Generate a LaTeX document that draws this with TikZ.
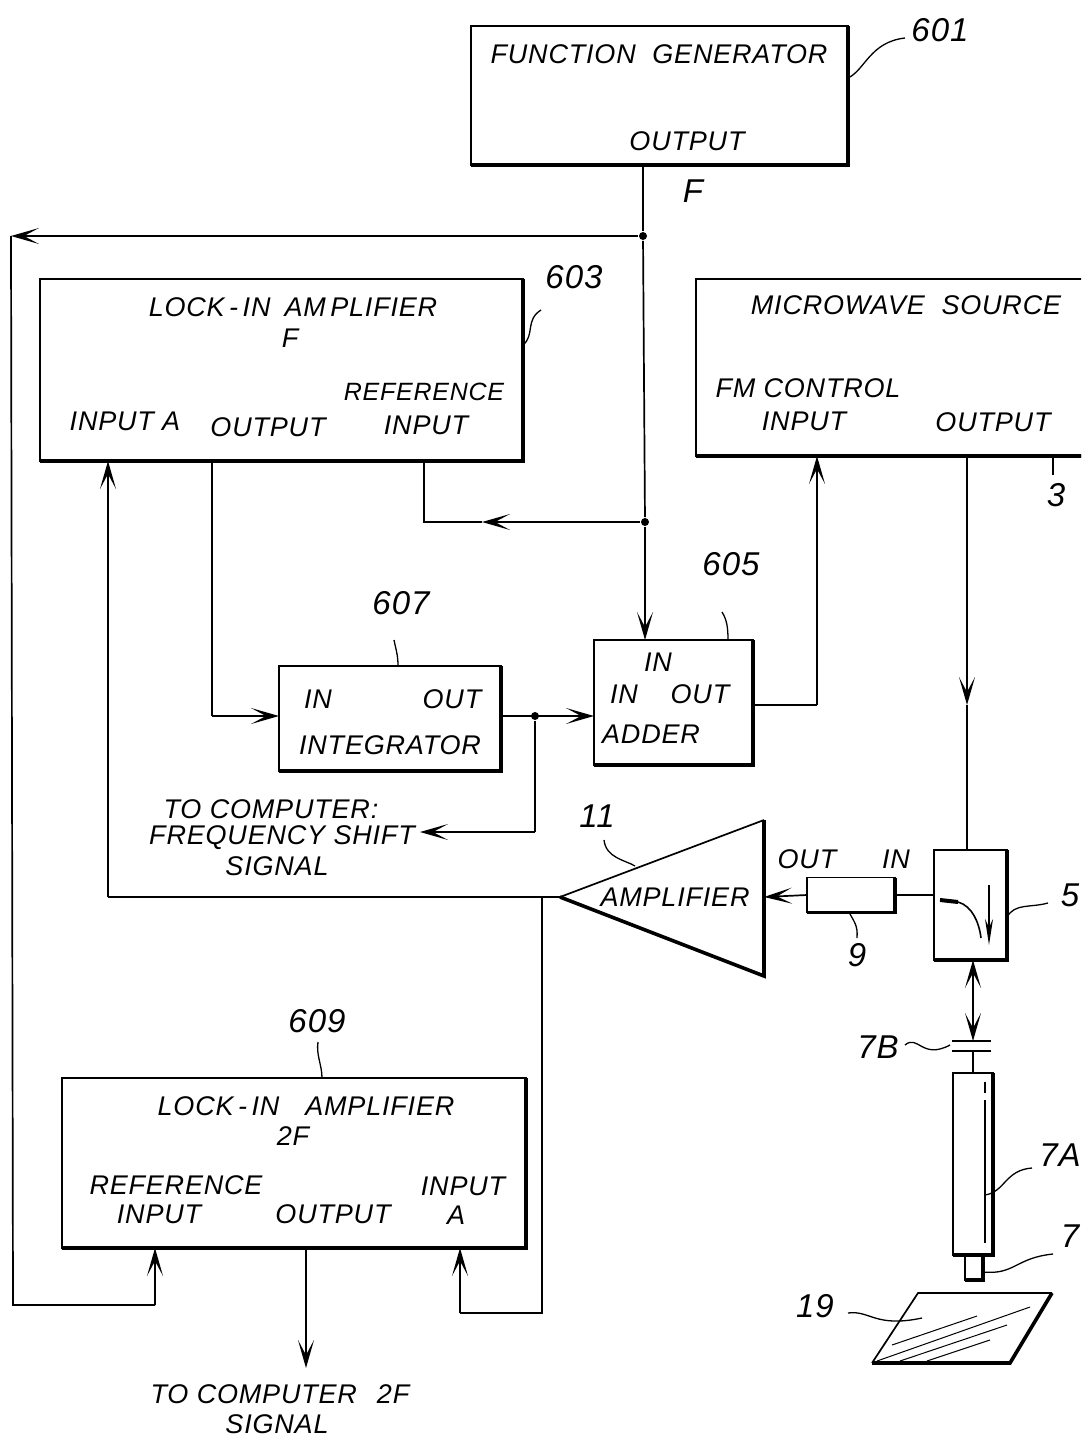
\documentclass[tikz,border=0pt]{standalone}
\usepackage{fontspec}
\setmainfont{Liberation Sans}[LetterSpace=3]
\usetikzlibrary{arrows.meta}
\tikzset{
  pattip/.tip={Stealth[length=28pt,width=16pt,inset=15pt]},
  arrowed/.style={-pattip},
  patent/.style={x=1pt,y=-1pt,line width=1.7pt},
  blockbox/.style={draw,inner sep=0pt,outer sep=0pt},
  heavy/.style={line width=3.6pt},
  lbl/.style={inner sep=0pt,align=center,font=\fontsize{27}{29}\selectfont\itshape},
  refnum/.style={inner sep=0pt,font=\fontsize{33}{33}\selectfont\itshape},
  dot/.style={circle,fill,inner sep=0pt,minimum size=8pt},
  leader/.style={line width=1.3pt}
}
\newcommand{\heavyedge}[1]{\draw[heavy] (#1.north east)--(#1.south east)--(#1.south west);}
\begin{document}
\begin{tikzpicture}[patent]
\path[use as bounding box,clip] (0,0) rectangle (1081,1439);
\fill[white] (0,0) rectangle (1081,1439);
% blocks
\node[blockbox,minimum width=377pt,minimum height=139pt] (fg) at (659.5,95.5) {};
\node[blockbox,minimum width=483pt,minimum height=182pt] (lockF) at (281.5,370) {};
\node[blockbox,minimum width=400pt,minimum height=177pt] (mw) at (896,367.5) {};
\node[blockbox,minimum width=159pt,minimum height=125pt] (adder) at (673.5,702.5) {};
\node[blockbox,minimum width=222pt,minimum height=105pt] (integ) at (390,718.5) {};
\node[blockbox,minimum width=464pt,minimum height=170pt] (lockT) at (294,1163) {};
\node[blockbox,minimum width=73pt,minimum height=110pt] (coupler) at (970.5,905) {};
\node[blockbox,minimum width=88pt,minimum height=35pt] (atten) at (851,895) {};
\node[blockbox,minimum width=40pt,minimum height=182pt] (tube) at (973,1164) {};
\node[blockbox,minimum width=18pt,minimum height=25pt] (tip) at (974,1267.5) {};
\heavyedge{fg} \heavyedge{lockF} \heavyedge{mw} \heavyedge{adder}
\heavyedge{integ} \heavyedge{lockT} \heavyedge{coupler} \heavyedge{atten}
\heavyedge{tube} \heavyedge{tip}
% amplifier
\coordinate (ampA) at (560,897); \coordinate (ampT) at (764,820); \coordinate (ampB) at (764,976);
\coordinate (ampI) at (764,897);
\draw (ampA)--(ampT);
\draw[heavy] (ampT)--(ampB)--(ampA);
% junctions
\node[dot] (jF) at (643,236) {};
\node[dot] (jR) at (645,522) {};
\node[dot] (jS) at (535,716) {};
\coordinate (jA) at (542,897);
\coordinate (wL) at (11,236); \coordinate (wB) at (13,1305);
\coordinate (rM) at (482,522);
\coordinate (mM) at (967,705);
\coordinate (cO) at (817,705);
\coordinate (oF) at (212,716);
\coordinate (rT) at (424,522);
\coordinate (tS) at (420,832);
\coordinate (aL) at (108,897);
\coordinate (iA) at (460,1313);
\coordinate (iR) at (155,1305);
\coordinate (oT) at (306,1368);
\coordinate (p7T) at (973,1041); \coordinate (p7B) at (973,1051);
\coordinate (dM) at (973,1002);
% connectors
\draw (fg.south -| jF)--(jF);
\draw (jF)--(jR);
\draw[arrowed] (jR)--(jR |- adder.north);
\draw[arrowed] (jF)--(wL);
\draw (wL)--(wB)--(iR);
\draw[arrowed] (iR)--(iR |- lockT.south);
\draw (lockF.south -| rT)--(rT)--(rM);
\draw[arrowed] (jR)--(rM);
\draw (lockF.south -| oF)--(oF);
\draw[arrowed] (oF)--(oF -| integ.west);
\draw[arrowed] (integ.east |- jS)--(jS -| adder.west);
\draw (jS)--(jS |- tS);
\draw[arrowed] (jS |- tS)--(tS);
\draw (adder.east |- cO)--(cO);
\draw[arrowed] (cO)--(cO |- mw.south);
\draw[arrowed] (mw.south -| mM)--(mM);
\draw (mM)--(mM |- coupler.north);
\draw (coupler.west |- atten.east)--(atten.east);
\draw[arrowed] (atten.west)--(ampI);
\draw (ampA)--(aL);
\draw[arrowed] (aL)--(aL |- lockF.south);
\draw (jA)--(jA |- iA)--(iA);
\draw[arrowed] (iA)--(iA |- lockT.south);
\draw[arrowed] (lockT.south -| oT)--(oT);
\draw[arrowed] (dM)--(dM |- coupler.south);
\draw[arrowed] (dM)--(p7T);
\draw (p7B)--(p7B |- tube.north);
\draw[line width=1.8pt] (952,1041)--(991,1041);
\draw[line width=1.8pt] (952,1051)--(991,1051);
% coupler inside
\draw[line width=4pt] (940,900)--(958,902);
\draw[line width=1.6pt] (958,902) .. controls (972,906) and (979,922) .. (981,938);
\draw[line width=2pt,{Stealth[length=26pt,width=8pt]}-] (989,945)--(989,885);
% probe inside and sample
\draw[line width=1.8pt] (985,1082)--(985,1093);
\draw[line width=1.6pt] (985,1100)--(985,1243);
\coordinate (sA) at (918,1293); \coordinate (sB) at (1052,1293); \coordinate (sC) at (1010,1363); \coordinate (sD) at (872,1363);
\draw (sD)--(sA)--(sB);
\draw[heavy] (sB)--(sC)--(sD);
\draw[line width=1pt] (892,1345)--(977,1316);
\draw[line width=1pt] (877,1361)--(1030,1307);
\draw[line width=1pt] (900,1361)--(1007,1325);
\draw[line width=1pt] (927,1361)--(990,1340);
% leaders
\draw[leader] (fg.east |- 0,78) .. controls (865,70) and (870,42) .. (905,38);
\draw[leader] (lockF.east |- 0,345) .. controls (535,335) and (525,320) .. (541,310);
\draw[leader] (728,640) .. controls (728,628) and (727,620) .. (722,612);
\draw[leader] (398,666) .. controls (398,655) and (396,650) .. (394,640);
\draw[leader] (322,1078) .. controls (322,1065) and (316,1055) .. (318,1042);
\draw[leader] (635,866) .. controls (625,860) and (606,858) .. (604,840);
\draw[leader] (1053,456)--(1053,475);
\draw[leader] (1007,917) .. controls (1015,903) and (1030,908) .. (1048,903);
\draw[leader] (849,912) .. controls (854,922) and (858,925) .. (857,938);
\draw[leader] (905,1045) .. controls (918,1034) and (922,1060) .. (950,1045);
\draw[leader] (985,1195) .. controls (1005,1192) and (1005,1170) .. (1032,1168);
\draw[leader] (983,1272) .. controls (1015,1275) and (1015,1258) .. (1053,1254);
\draw[leader] (848,1313) .. controls (870,1310) and (875,1328) .. (922,1318);
% labels
\node[lbl] (tFg) at (659,54) {FUNCTION\ \ GENERATOR};
\node[lbl] (tFgO) at (687,141) {OUTPUT};
\node[refnum] (n601) at (940,30) {601};
\node[refnum] (nF) at (693,191) {F};
\node[lbl] (tLF) at (293,307) {LOCK\,-\,IN\hspace{14pt}AM\,PLIFIER};
\node[lbl] (tLFf) at (290,338) {F};
\node[lbl] (tLFa) at (125,421) {INPUT A};
\node[lbl] (tLFo) at (268,427) {OUTPUT};
\node[lbl,font=\fontsize{25}{29}\selectfont\itshape] (tLFr) at (424,392) {REFERENCE};
\node[lbl] (tLFi) at (426,425) {INPUT};
\node[refnum] (n603) at (574,277) {603};
\node[lbl] (tMw) at (906,305) {MICROWAVE\ \ SOURCE};
\node[lbl] (tMwF) at (808,388) {FM CONTROL};
\node[lbl] (tMwI) at (804,421) {INPUT};
\node[lbl] (tMwO) at (993,422) {OUTPUT};
\node[refnum] (n3) at (1056,495) {3};
\node[refnum] (n605) at (731,564) {605};
\node[refnum] (n607) at (401,603) {607};
\node[lbl] (tAi) at (658,662) {IN};
\node[lbl] (tAj) at (624,694) {IN};
\node[lbl] (tAo) at (700,694) {OUT};
\node[lbl] (tAa) at (651,734) {ADDER};
\node[lbl] (tIi) at (318,699) {IN};
\node[lbl] (tIo) at (452,699) {OUT};
\node[lbl] (tIn) at (390,745) {INTEGRATOR};
\node[lbl] (tCp) at (271,809) {TO COMPUTER:};
\node[lbl] (tCf) at (282,838) {FREQUENCY SHIFT};
\node[lbl] (tCs) at (277,866) {SIGNAL};
\node[refnum] (n11) at (597,816) {11};
\node[lbl] (tAm) at (675,897) {AMPLIFIER};
\node[lbl] (tOu) at (807,859) {OUT};
\node[lbl] (tIn9) at (896,859) {IN};
\node[refnum] (n5) at (1070,895) {5};
\node[refnum] (n9) at (857,955) {9};
\node[refnum] (n7B) at (878,1047) {7B};
\node[refnum] (n7A) at (1060,1155) {7A};
\node[refnum] (n7) at (1070,1236) {7};
\node[refnum] (n19) at (815,1306) {19};
\node[refnum] (n609) at (317,1021) {609};
\node[lbl] (tLT) at (306,1106) {LOCK\,-\,IN\hspace{26pt}AMPLIFIER};
\node[lbl] (tLTt) at (293,1136) {2F};
\node[lbl] (tLTr) at (176,1185) {REFERENCE};
\node[lbl] (tLTi) at (159,1214) {INPUT};
\node[lbl] (tLTo) at (333,1214) {OUTPUT};
\node[lbl] (tLTa) at (463,1186) {INPUT};
\node[lbl] (tLTb) at (456,1215) {A};
\node[lbl] (tEnd) at (280,1394) {TO COMPUTER\hspace{20pt}2F};
\node[lbl] (tEnds) at (277,1424) {SIGNAL};
\end{tikzpicture}
\end{document}
